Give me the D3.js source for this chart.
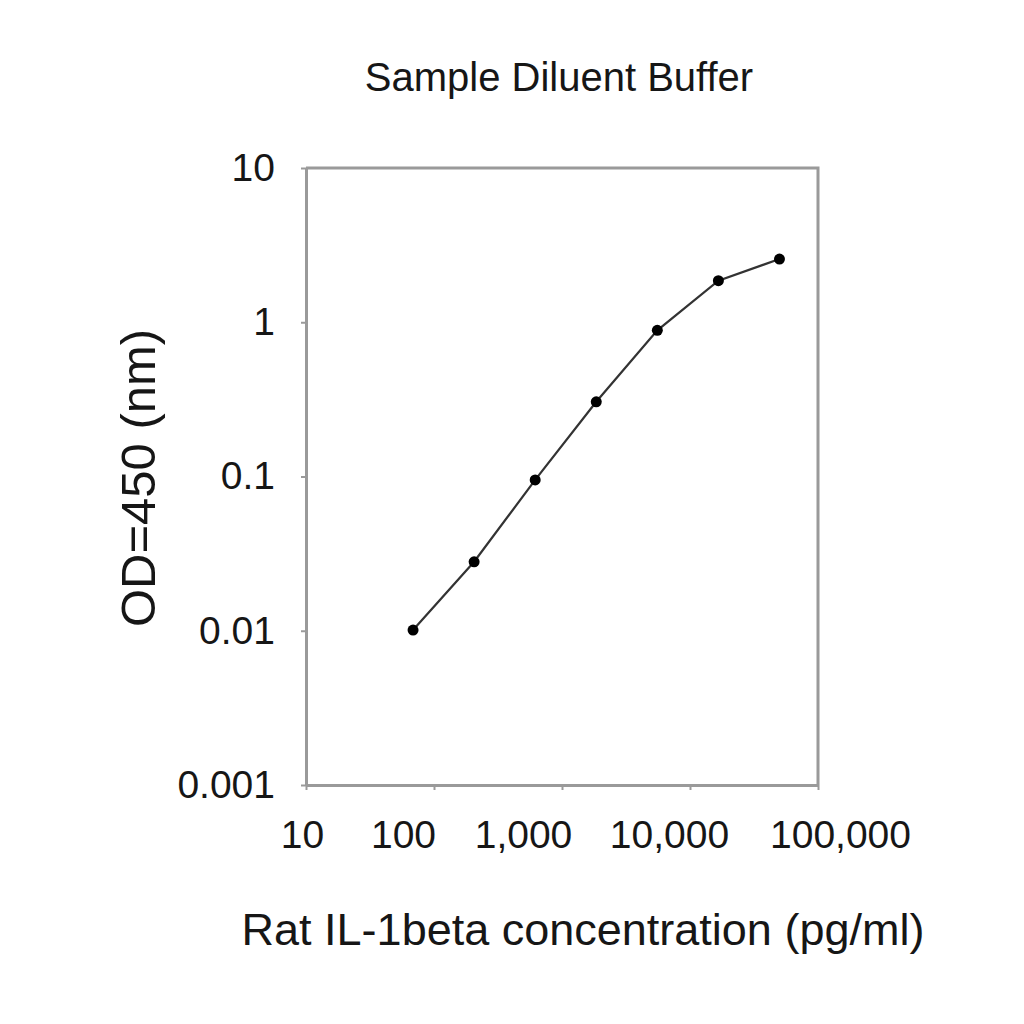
<!DOCTYPE html>
<html>
<head>
<meta charset="utf-8">
<script src="https://d3js.org/d3.v7.min.js"></script>
<style>
  body { margin: 0; background: #fff; }
  text { font-family: "Liberation Sans", Arial, sans-serif; fill: #161616; }
  .axis path, .axis line { stroke: #9a9a9a; }
</style>
</head>
<body>
<div id="chart"></div>
<script>
// standard curve, rat IL-1beta in sample diluent buffer
var concentration = [68.6, 205.8, 617.3, 1852, 5556, 16667, 50000];
var od450 = [0.0101, 0.028, 0.095, 0.305, 0.886, 1.86, 2.57];

var xTicks = [10, 100, 1000, 10000, 100000];
var yTicks = [0.001, 0.01, 0.1, 1, 10];

var W = 1024, H = 1024;
var margin = {top: 168, right: 206, bottom: 239, left: 306};
var width = W - margin.left - margin.right,
    height = H - margin.top - margin.bottom;

var svg = d3.select("#chart").append("svg")
    .attr("width", W)
    .attr("height", H);

var g = svg.append("g")
    .attr("transform", "translate(" + margin.left + "," + margin.top + ")");

var x = d3.scaleLog().domain([10, 100000]).range([0, width]);
var y = d3.scaleLog().domain([0.001, 10]).range([height, 0]);

// frame (top + right)
g.append("path")
    .attr("d", "M0,0H" + width + "V" + height)
    .attr("fill", "none")
    .attr("stroke", "#9a9a9a")
    .attr("stroke-width", 3);

// x axis
var fmt = d3.format(",");
// labels in the original sit a little off their ticks
var xShift = [-4, -31, -39, -21, 22];
var xAxis = g.append("g")
    .attr("class", "axis")
    .attr("transform", "translate(0," + height + ")")
    .call(d3.axisBottom(x).tickValues(xTicks).tickFormat(fmt).tickSize(5).tickPadding(30).tickSizeOuter(0));
xAxis.select(".domain").attr("stroke-width", 3);
xAxis.selectAll(".tick line").attr("stroke-width", 2);
xAxis.selectAll(".tick text")
    .attr("font-size", 39)
    .attr("dx", function(d, i) { return xShift[i]; });

// y axis
var yAxis = g.append("g")
    .attr("class", "axis")
    .call(d3.axisLeft(y).tickValues(yTicks).tickFormat(function(d) { return String(+d.toFixed(3)); }).tickSize(5).tickPadding(26).tickSizeOuter(0));
yAxis.select(".domain").attr("stroke-width", 3);
yAxis.selectAll(".tick line").attr("stroke-width", 2);
yAxis.selectAll(".tick text").attr("font-size", 39);

// curve
var pts = concentration.map(function(c, i) { return [c, od450[i]]; });
g.append("path")
    .datum(pts)
    .attr("fill", "none")
    .attr("stroke", "#333")
    .attr("stroke-width", 2.2)
    .attr("d", d3.line()
      .x(function(d) { return x(d[0]); })
      .y(function(d) { return y(d[1]); }));

g.selectAll(".dot")
    .data(pts)
    .enter().append("circle")
    .attr("class", "dot")
    .attr("cx", function(d) { return x(d[0]); })
    .attr("cy", function(d) { return y(d[1]); })
    .attr("r", 5.5)
    .attr("fill", "#000");

// title and axis labels
svg.append("text")
    .attr("x", 559).attr("y", 91)
    .attr("text-anchor", "middle")
    .attr("font-size", 40)
    .text("Sample Diluent Buffer");

svg.append("text")
    .attr("x", 583).attr("y", 945)
    .attr("text-anchor", "middle")
    .attr("font-size", 45)
    .text("Rat IL-1beta concentration (pg/ml)");

svg.append("text")
    .attr("transform", "translate(155,478) rotate(-90)")
    .attr("text-anchor", "middle")
    .attr("font-size", 49)
    .text("OD=450 (nm)");
</script>
</body>
</html>
